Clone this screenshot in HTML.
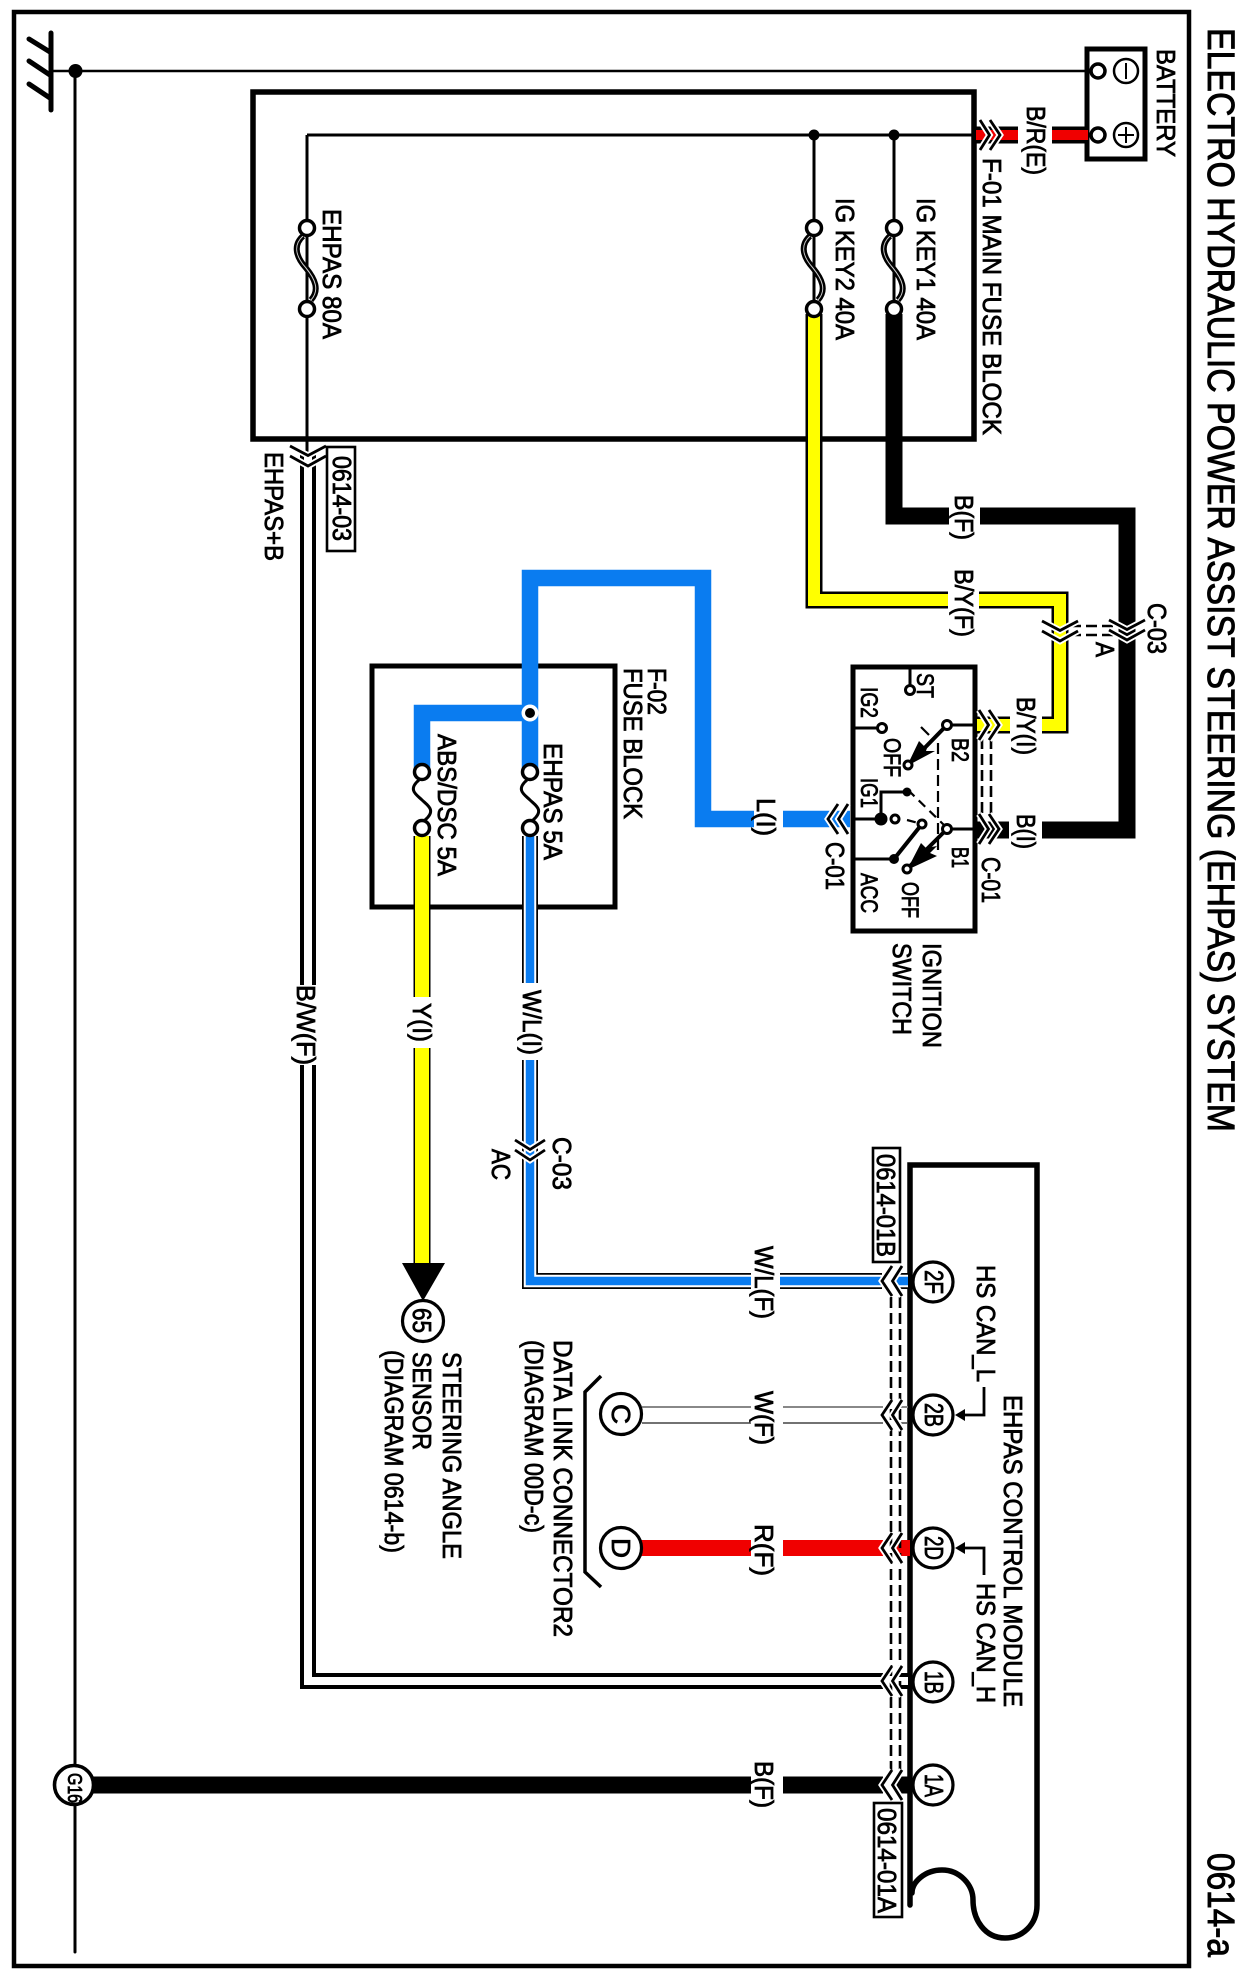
<!DOCTYPE html>
<html><head><meta charset="utf-8"><title>0614-a</title>
<style>
html,body{margin:0;padding:0;background:#fff}
svg{display:block}
text{font-family:"Liberation Sans",sans-serif;font-size:26px;fill:#000;stroke:#000;stroke-width:.8px}
.s{font-size:24px}
.title{font-size:38px;stroke-width:.9px}
</style></head>
<body>
<svg xmlns="http://www.w3.org/2000/svg" width="1243" height="1980" viewBox="0 0 1243 1980">
<defs>
<g id="chL" fill="none" stroke-linejoin="miter">
<path d="M10 -15 L0 0 L10 15" stroke="#fff" stroke-width="6.500"/>
<path d="M20 -15 L10.500 0 L20 15" stroke="#fff" stroke-width="6.500"/>
<path d="M10 -15 L0 0 L10 15" stroke="#000" stroke-width="2.800"/>
<path d="M20 -15 L10.500 0 L20 15" stroke="#000" stroke-width="2.800"/>
</g>
<g id="chW" fill="none" stroke-linejoin="miter">
<path d="M10 -18 L0 0 L10 18" stroke="#fff" stroke-width="6.500"/>
<path d="M20 -18 L10.500 0 L20 18" stroke="#fff" stroke-width="6.500"/>
<path d="M10 -18 L0 0 L10 18" stroke="#000" stroke-width="2.800"/>
<path d="M20 -18 L10.500 0 L20 18" stroke="#000" stroke-width="2.800"/>
</g>
<g id="fz" fill="none">
<path d="M-4 -32 C-15 -22 -10 -10 -1 0 C8 11 13 22 4 32" stroke="#000" stroke-width="6"/>
<path d="M-4 -32 C-15 -22 -10 -10 -1 0 C8 11 13 22 4 32" stroke="#ccc" stroke-width="1"/>
<circle cx="0" cy="-40" r="7.500" fill="#fff" stroke="#000" stroke-width="3.500"/>
<circle cx="0" cy="41" r="7.500" fill="#fff" stroke="#000" stroke-width="3.500"/>
</g>
<g id="fs" fill="none">
<path d="M-3 -20 C-15 -10 -5 -5 0 0 C5 5 15 10 3 20" stroke="#000" stroke-width="3"/>
<circle cx="0" cy="-28" r="7.500" fill="#fff" stroke="#000" stroke-width="3.500"/>
<circle cx="0" cy="28" r="7.500" fill="#fff" stroke="#000" stroke-width="3.500"/>
</g>
</defs>
<rect width="1243" height="1980" fill="#fff"/>

<!-- Outer frame -->
<rect x="14" y="12" width="1175" height="1954" fill="none" stroke="#000" stroke-width="4.500"/>

<!-- Ground -->
<g stroke="#000" fill="none" stroke-linecap="round">
<path d="M51 33 V110" stroke-width="5"/>
<path d="M29 39 L50 52 M29 61 L50 75 M29 84 L50 98" stroke-width="5"/>
<path d="M51 71 H1088" stroke-width="2.600"/>
<path d="M75 71 V1952" stroke-width="3"/>
</g>
<circle cx="75.500" cy="71" r="7" fill="#000"/>

<!-- Main fuse block -->
<rect x="253" y="92" width="721" height="347" fill="none" stroke="#000" stroke-width="5.500"/>
<path d="M307 135 H976 M307 135 V455 M814 135 V300 M894 135 V300" fill="none" stroke="#000" stroke-width="3"/>
<circle cx="814" cy="135" r="5.500"/><circle cx="894" cy="135" r="5.500"/>

<!-- F-02 box -->
<rect x="372" y="666" width="243" height="241" fill="none" stroke="#000" stroke-width="5"/>

<!-- Ignition box -->
<rect x="853" y="667" width="122" height="264" fill="none" stroke="#000" stroke-width="5"/>

<!-- Module -->
<path d="M910 1905 L910 1165 L1037 1165 L1037 1905 C1037 1925 1022 1938 1005 1938 C985 1938 973 1920 973 1900 C973 1885 960 1870 942 1870 C925 1870 912 1882 912 1893" fill="none" stroke="#000" stroke-width="5.500" stroke-linecap="round"/>

<!-- Battery -->
<rect x="1087" y="49" width="58" height="110" fill="#fff" stroke="#000" stroke-width="5"/>
<circle cx="1098" cy="71" r="7" fill="#fff" stroke="#000" stroke-width="3.500"/>
<circle cx="1098" cy="135" r="7" fill="#fff" stroke="#000" stroke-width="3.500"/>
<circle cx="1126" cy="71" r="12" fill="#fff" stroke="#000" stroke-width="2.500"/>
<circle cx="1126" cy="135" r="12" fill="#fff" stroke="#000" stroke-width="2.500"/>
<path d="M1126 63 V79 M1126 127 V143 M1118 135 H1134" stroke="#000" stroke-width="2"/>

<!-- Wires -->
<g fill="none">
<path d="M976 135 H1018 M1052 135 H1088" stroke="#000" stroke-width="17"/>
<path d="M976 135 H1018 M1052 135 H1088" stroke="#f00000" stroke-width="10"/>

<path d="M814 314 V600 H948 M979 600 H1060 V725 H1042 M1010 725 H977" stroke="#000" stroke-width="17"/>
<path d="M814 314 V600 H948 M979 600 H1060 V725 H1042 M1010 725 H977" stroke="#ffff00" stroke-width="12"/>

<path d="M894 314 V516 H949 M980 516 H1127 V830 H1042 M1009 830 H977" stroke="#000" stroke-width="17"/>

<path d="M850 819 H783 M754 819 H703 V578 H530 V768 M530 713 H422 V768" stroke="#0a7cf0" stroke-width="16.500"/>

<path d="M530 836 V983 M530 1060 V1281 H751 M780 1281 H882 M895 1281 H908" stroke="#000" stroke-width="16"/>
<path d="M530 836 V983 M530 1060 V1281 H751 M780 1281 H882 M895 1281 H908" stroke="#fff" stroke-width="12.500"/>
<path d="M530 836 V983 M530 1060 V1281 H751 M780 1281 H882 M895 1281 H908" stroke="#0a7cf0" stroke-width="8.500"/>

<path d="M422 836 V997 M422 1048 V1264" stroke="#000" stroke-width="17"/>
<path d="M422 836 V997 M422 1048 V1264" stroke="#ffff00" stroke-width="14"/>

<path d="M308 455 V985 M308 1065 V1681 H883 M895 1681 H908" stroke="#000" stroke-width="16"/>
<path d="M308 455 V985 M308 1065 V1681 H883 M895 1681 H908" stroke="#fff" stroke-width="8"/>

<path d="M642 1407 H751 M783 1407 H883 M895 1407 H908" stroke="#888" stroke-width="2"/>
<path d="M642 1423 H751 M783 1423 H883 M895 1423 H908" stroke="#444" stroke-width="1.600"/>

<path d="M640 1548 H751 M783 1548 H883 M895 1548 H910" stroke="#f00000" stroke-width="16"/>

<path d="M90 1785 H751 M783 1785 H883 M895 1785 H910" stroke="#000" stroke-width="17"/>

<path d="M891 1297 V1772 M900 1297 V1772" stroke="#000" stroke-width="2.600" stroke-dasharray="11 5"/>
<path d="M982 738 V816 M991 738 V816" stroke="#000" stroke-width="2.600" stroke-dasharray="11 5"/>
<path d="M1070 626 H1113 M1070 635 H1113" stroke="#000" stroke-width="2.400" stroke-dasharray="11 5"/>
</g>

<!-- Fuses -->
<use href="#fz" transform="translate(307,268)"/>
<use href="#fz" transform="translate(814,268)"/>
<use href="#fz" transform="translate(894,268)"/>
<use href="#fs" transform="translate(530,800)"/>
<use href="#fs" transform="translate(422,800)"/>

<!-- Junction F-02 -->
<circle cx="530" cy="713" r="8.500" fill="#fff"/>
<circle cx="530" cy="713" r="5" fill="#000"/>

<!-- Connector chevrons -->
<use href="#chL" transform="translate(1000,135) rotate(180)"/>
<use href="#chW" transform="translate(308,466) rotate(-90)"/>
<use href="#chW" transform="translate(1127,640) rotate(-90)"/>
<use href="#chW" transform="translate(1060,641) rotate(-90)"/>
<use href="#chL" transform="translate(999,725) rotate(180)"/>
<use href="#chL" transform="translate(999,829) rotate(180)"/>
<use href="#chL" transform="translate(828,819)"/>
<use href="#chL" transform="translate(530,1160) rotate(-90)"/>
<use href="#chL" transform="translate(882,1281)"/>
<use href="#chL" transform="translate(882,1415)"/>
<use href="#chL" transform="translate(882,1548)"/>
<use href="#chL" transform="translate(882,1681)"/>
<use href="#chL" transform="translate(882,1785)"/>

<!-- Ignition switch internals -->
<g stroke="#000" fill="none" stroke-width="3">
<path d="M910 667 V690"/>
<path d="M853 728 H882"/>
<path d="M975 725 H947"/>
<path d="M975 829 H947"/>
<path d="M853 819 H881 V792 H907"/>
<path d="M853 859 H894"/>
<path d="M947 725 L908 765 M947 829 L907 869 M922 824 L894 859" stroke-width="4"/>
<path d="M921 727 L929 735" stroke-width="2.200"/>
<path d="M938 743 V852" stroke-width="2.200" stroke-dasharray="11 5"/>
<path d="M908 790 L945 826 M907 820 L922 824" stroke-width="2.200" stroke-dasharray="9 6"/>
</g>
<polygon points="907,766 919,741 925,747 928,745 926,751 935,751" fill="#000"/>
<polygon points="907,870 921,843 926,848 937,846 930,853 937,856" fill="#000"/>
<circle cx="910" cy="690" r="4.500" fill="#fff" stroke="#000" stroke-width="3"/>
<circle cx="882" cy="728" r="4.500" fill="#fff" stroke="#000" stroke-width="3"/>
<circle cx="947" cy="725" r="4.500" fill="#fff" stroke="#000" stroke-width="3"/>
<circle cx="908" cy="765" r="4" fill="#fff" stroke="#000" stroke-width="3"/>
<circle cx="881" cy="819" r="6.500" fill="#000"/>
<circle cx="895" cy="819" r="4" fill="#fff" stroke="#000" stroke-width="3"/>
<circle cx="907" cy="792" r="4.500" fill="#000"/>
<circle cx="947" cy="829" r="4.500" fill="#fff" stroke="#000" stroke-width="3"/>
<circle cx="922" cy="824" r="4" fill="#fff" stroke="#000" stroke-width="3"/>
<circle cx="894" cy="859" r="5" fill="#000"/>
<circle cx="907" cy="869" r="4" fill="#fff" stroke="#000" stroke-width="3"/>

<!-- Circles -->
<g fill="#fff" stroke="#000" stroke-width="3.200">
<circle cx="933" cy="1282" r="20"/>
<circle cx="933" cy="1415" r="20"/>
<circle cx="933" cy="1548" r="20"/>
<circle cx="933" cy="1682" r="20"/>
<circle cx="933" cy="1785" r="20"/>
<circle cx="621" cy="1414" r="20.500"/>
<circle cx="621" cy="1548" r="20.500"/>
<circle cx="423" cy="1321" r="20.500"/>
<circle cx="74" cy="1785" r="19.500" stroke-width="3.600"/>
</g>
<polygon points="402,1263 445,1263 423,1301" fill="#000"/>

<!-- Callouts -->
<path d="M984 1387 V1415 H962 M984 1575 V1548 H962" fill="none" stroke="#000" stroke-width="2.800"/>
<polygon points="955,1415 965,1409 965,1421" fill="#000"/>
<polygon points="955,1548 965,1542 965,1554" fill="#000"/>

<!-- Bracket -->
<path d="M601 1376 L585 1392 V1572 L601 1587" fill="none" stroke="#000" stroke-width="3.500"/>

<!-- Reference boxes -->
<g fill="#fff" stroke="#000" stroke-width="2.600">
<rect x="327" y="447" width="28" height="104"/>
<rect x="873" y="1148" width="27" height="114"/>
<rect x="874" y="1803" width="28" height="114"/>
</g>

<!-- Text -->
<g>
<text class="title" transform="translate(1208,28) rotate(90)" textLength="1104" lengthAdjust="spacingAndGlyphs">ELECTRO HYDRAULIC POWER ASSIST STEERING (EHPAS) SYSTEM</text>
<text class="title" transform="translate(1208,1853) rotate(90)" textLength="104" lengthAdjust="spacingAndGlyphs">0614-a</text>
<text transform="translate(1157,49) rotate(90)" textLength="108" lengthAdjust="spacingAndGlyphs">BATTERY</text>
<text transform="translate(1027,106) rotate(90)" textLength="69" lengthAdjust="spacingAndGlyphs">B/R(E)</text>
<text transform="translate(983,158) rotate(90)" textLength="277" lengthAdjust="spacingAndGlyphs">F-01 MAIN FUSE BLOCK</text>
<text transform="translate(917,198) rotate(90)" textLength="142" lengthAdjust="spacingAndGlyphs">IG KEY1 40A</text>
<text transform="translate(836,198) rotate(90)" textLength="142" lengthAdjust="spacingAndGlyphs">IG KEY2 40A</text>
<text transform="translate(323,209) rotate(90)" textLength="130" lengthAdjust="spacingAndGlyphs">EHPAS 80A</text>
<text transform="translate(333,456) rotate(90)" textLength="85" lengthAdjust="spacingAndGlyphs">0614-03</text>
<text transform="translate(265,452) rotate(90)" textLength="109" lengthAdjust="spacingAndGlyphs">EHPAS+B</text>
<text transform="translate(297,985) rotate(90)" textLength="80" lengthAdjust="spacingAndGlyphs">B/W(F)</text>
<text transform="translate(955,495) rotate(90)" textLength="45" lengthAdjust="spacingAndGlyphs">B(F)</text>
<text transform="translate(955,569) rotate(90)" textLength="68" lengthAdjust="spacingAndGlyphs">B/Y(F)</text>
<text transform="translate(1148,603) rotate(90)" textLength="51" lengthAdjust="spacingAndGlyphs">C-03</text>
<text transform="translate(1096,642) rotate(90)" textLength="15" lengthAdjust="spacingAndGlyphs">A</text>
<text transform="translate(1017,697) rotate(90)" textLength="58" lengthAdjust="spacingAndGlyphs">B/Y(I)</text>
<text transform="translate(1017,814) rotate(90)" textLength="35" lengthAdjust="spacingAndGlyphs">B(I)</text>
<text transform="translate(982,857) rotate(90)" textLength="46" lengthAdjust="spacingAndGlyphs">C-01</text>
<text transform="translate(826,842) rotate(90)" textLength="48" lengthAdjust="spacingAndGlyphs">C-01</text>
<text transform="translate(757,798) rotate(90)" textLength="38" lengthAdjust="spacingAndGlyphs">L(I)</text>

<text class="s" transform="translate(917,673) rotate(90)" textLength="25" lengthAdjust="spacingAndGlyphs">ST</text>
<text class="s" transform="translate(861,687) rotate(90)" textLength="31" lengthAdjust="spacingAndGlyphs">IG2</text>
<text class="s" transform="translate(884,738) rotate(90)" textLength="39" lengthAdjust="spacingAndGlyphs">OFF</text>
<text class="s" transform="translate(952,738) rotate(90)" textLength="24" lengthAdjust="spacingAndGlyphs">B2</text>
<text class="s" transform="translate(861,778) rotate(90)" textLength="30" lengthAdjust="spacingAndGlyphs">IG1</text>
<text class="s" transform="translate(952,847) rotate(90)" textLength="21" lengthAdjust="spacingAndGlyphs">B1</text>
<text class="s" transform="translate(902,882) rotate(90)" textLength="36" lengthAdjust="spacingAndGlyphs">OFF</text>
<text class="s" transform="translate(861,873) rotate(90)" textLength="40" lengthAdjust="spacingAndGlyphs">ACC</text>
<text transform="translate(923,943) rotate(90)" textLength="105" lengthAdjust="spacingAndGlyphs">IGNITION</text>
<text transform="translate(893,943) rotate(90)" textLength="92" lengthAdjust="spacingAndGlyphs">SWITCH</text>

<text transform="translate(648,668) rotate(90)" textLength="47" lengthAdjust="spacingAndGlyphs">F-02</text>
<text transform="translate(624,668) rotate(90)" textLength="151" lengthAdjust="spacingAndGlyphs">FUSE BLOCK</text>
<text transform="translate(544,743) rotate(90)" textLength="117" lengthAdjust="spacingAndGlyphs">EHPAS 5A</text>
<text transform="translate(438,734) rotate(90)" textLength="142" lengthAdjust="spacingAndGlyphs">ABS/DSC 5A</text>
<text transform="translate(413,1003) rotate(90)" textLength="39" lengthAdjust="spacingAndGlyphs">Y(I)</text>
<text transform="translate(523,990) rotate(90)" textLength="65" lengthAdjust="spacingAndGlyphs">W/L(I)</text>
<text transform="translate(553,1137) rotate(90)" textLength="53" lengthAdjust="spacingAndGlyphs">C-03</text>
<text transform="translate(492,1149) rotate(90)" textLength="31" lengthAdjust="spacingAndGlyphs">AC</text>

<text transform="translate(443,1352) rotate(90)" textLength="207" lengthAdjust="spacingAndGlyphs">STEERING ANGLE</text>
<text transform="translate(413,1352) rotate(90)" textLength="98" lengthAdjust="spacingAndGlyphs">SENSOR</text>
<text transform="translate(385,1350) rotate(90)" textLength="203" lengthAdjust="spacingAndGlyphs">(DIAGRAM 0614-b)</text>
<text transform="translate(554,1340) rotate(90)" textLength="297" lengthAdjust="spacingAndGlyphs">DATA LINK CONNECTOR2</text>
<text transform="translate(525,1340) rotate(90)" textLength="193" lengthAdjust="spacingAndGlyphs">(DIAGRAM 00D-c)</text>

<text transform="translate(413,1308) rotate(90)" textLength="25" lengthAdjust="spacingAndGlyphs">65</text>
<text transform="translate(612,1404) rotate(90)" textLength="20" lengthAdjust="spacingAndGlyphs">C</text>
<text transform="translate(612,1538) rotate(90)" textLength="20" lengthAdjust="spacingAndGlyphs">D</text>

<text transform="translate(755,1246) rotate(90)" textLength="73" lengthAdjust="spacingAndGlyphs">W/L(F)</text>
<text transform="translate(755,1391) rotate(90)" textLength="54" lengthAdjust="spacingAndGlyphs">W(F)</text>
<text transform="translate(755,1524) rotate(90)" textLength="52" lengthAdjust="spacingAndGlyphs">R(F)</text>
<text transform="translate(755,1761) rotate(90)" textLength="47" lengthAdjust="spacingAndGlyphs">B(F)</text>

<text transform="translate(877,1154) rotate(90)" textLength="103" lengthAdjust="spacingAndGlyphs">0614-01B</text>
<text transform="translate(878,1808) rotate(90)" textLength="105" lengthAdjust="spacingAndGlyphs">0614-01A</text>

<text transform="translate(925,1270) rotate(90)" textLength="24" lengthAdjust="spacingAndGlyphs">2F</text>
<text transform="translate(925,1403) rotate(90)" textLength="24" lengthAdjust="spacingAndGlyphs">2B</text>
<text transform="translate(925,1536) rotate(90)" textLength="24" lengthAdjust="spacingAndGlyphs">2D</text>
<text transform="translate(925,1671) rotate(90)" textLength="23" lengthAdjust="spacingAndGlyphs">1B</text>
<text transform="translate(925,1774) rotate(90)" textLength="23" lengthAdjust="spacingAndGlyphs">1A</text>

<text transform="translate(977,1265) rotate(90)" textLength="117" lengthAdjust="spacingAndGlyphs">HS CAN_L</text>
<text transform="translate(977,1583) rotate(90)" textLength="120" lengthAdjust="spacingAndGlyphs">HS CAN_H</text>
<text transform="translate(1004,1395) rotate(90)" textLength="312" lengthAdjust="spacingAndGlyphs">EHPAS CONTROL MODULE</text>

<text transform="translate(68,1773) rotate(90)" style="font-size:20px" textLength="30" lengthAdjust="spacingAndGlyphs">G16</text>
</g>
</svg>
</body></html>
